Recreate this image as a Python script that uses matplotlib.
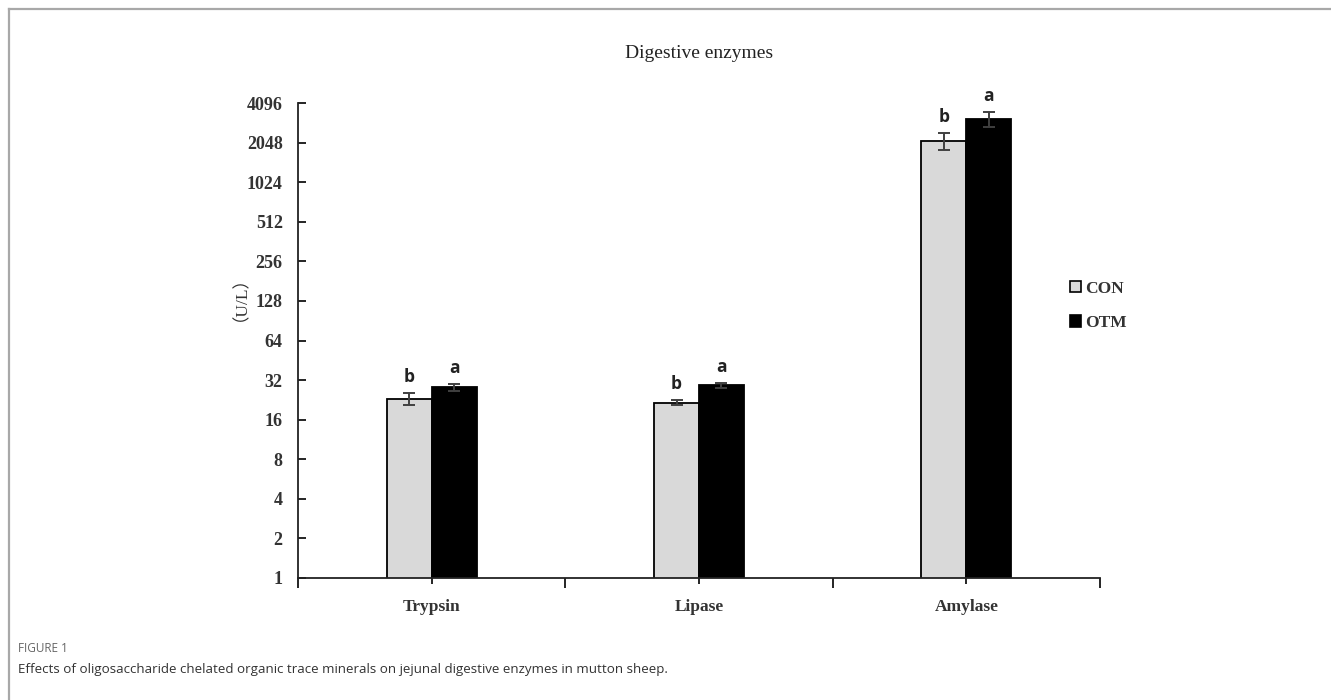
import matplotlib
matplotlib.use("Agg")
import matplotlib.pyplot as plt
import numpy as np
from matplotlib.patches import Patch
from matplotlib.lines import Line2D
from matplotlib.ticker import FixedLocator, FixedFormatter, NullLocator

categories = ["Trypsin", "Lipase", "Amylase"]
series_names = ["CON", "OTM"]
con_values = [23.0, 21.6, 2110.0]
con_errors = [2.4, 1.0, 320.0]
otm_values = [28.3, 29.2, 3100.0]
otm_errors = [1.7, 1.4, 400.0]
con_letters = ["b", "b", "b"]
otm_letters = ["a", "a", "a"]
ytick_values = [1, 2, 4, 8, 16, 32, 64, 128, 256, 512, 1024, 2048, 4096]
title = "Digestive enzymes"
ylabel = "（U/L）"
caption_head = "FIGURE 1"
caption_text = "Effects of oligosaccharide chelated organic trace minerals on jejunal digestive enzymes in mutton sheep."

W, H = 1331, 700
fig = plt.figure(figsize=(W / 100, H / 100), dpi=100)

# outer frame lines (top and left)
fig.add_artist(Line2D([9 / W, 1], [1 - 9 / H, 1 - 9 / H], color="#a8a8a8", lw=1.6))
fig.add_artist(Line2D([9 / W, 9 / W], [0, 1 - 9 / H], color="#a8a8a8", lw=1.6))

ax_l, ax_r, ax_t, ax_b = 298, 1100, 103, 578
ax = fig.add_axes([ax_l / W, 1 - ax_b / H, (ax_r - ax_l) / W, (ax_b - ax_t) / H])

x = np.arange(len(categories))
bw = 0.168

ax.bar(x - bw / 2, con_values, bw, color="#d9d9d9", edgecolor="black", linewidth=1.3, zorder=2)
ax.bar(x + bw / 2, otm_values, bw, color="black", edgecolor="black", linewidth=1.3, zorder=2)
ax.errorbar(x - bw / 2, con_values, yerr=con_errors, fmt="none", ecolor="#404040",
            elinewidth=1.4, capsize=4.5, capthick=1.4, zorder=3)
ax.errorbar(x + bw / 2, otm_values, yerr=otm_errors, fmt="none", ecolor="#404040",
            elinewidth=1.4, capsize=4.5, capthick=1.4, zorder=3)

for xi, v, e, t in zip(x - bw / 2, con_values, con_errors, con_letters):
    ax.annotate(t, (xi, v + e), xytext=(0, 5), textcoords="offset points", ha="center", va="bottom",
                fontsize=12.5, fontweight="bold", family="Open Sans", color="#222222")
for xi, v, e, t in zip(x + bw / 2, otm_values, otm_errors, otm_letters):
    ax.annotate(t, (xi, v + e), xytext=(0, 5), textcoords="offset points", ha="center", va="bottom",
                fontsize=12.5, fontweight="bold", family="Open Sans", color="#222222")

ax.set_yscale("log", base=2)
ax.set_ylim(1, 4096)
ax.set_xlim(-0.5, len(categories) - 0.5)
ax.yaxis.set_major_locator(FixedLocator(ytick_values))
ax.yaxis.set_major_formatter(FixedFormatter([str(v) for v in ytick_values]))
ax.yaxis.set_minor_locator(NullLocator())
ax.tick_params(axis="y", direction="in", length=6, width=1.2, pad=11, labelsize=13)
for lab in ax.get_yticklabels():
    lab.set_fontfamily("Liberation Serif")
    lab.set_fontweight("bold")
    lab.set_color("#333333")

ax.set_xticks(x)
ax.set_xticklabels(categories)
ax.tick_params(axis="x", direction="out", length=4, width=1.2, pad=11, labelsize=12.5)
for lab in ax.get_xticklabels():
    lab.set_fontfamily("Liberation Serif")
    lab.set_fontweight("bold")
    lab.set_color("#333333")
# boundary ticks between categories
ax.set_xticks(np.arange(-0.5, len(categories), 1.0), minor=True)
ax.tick_params(axis="x", which="minor", direction="out", length=7, width=1.2)

for s in ["top", "right"]:
    ax.spines[s].set_visible(False)
for s in ["left", "bottom"]:
    ax.spines[s].set_linewidth(1.3)
    ax.spines[s].set_color("#222222")

fig.text(699 / W, 1 - 54 / H, title, ha="center", va="center", fontsize=14,
         family="Liberation Serif", color="#222222")
fig.text(232 / W, 1 - 290 / H, ylabel, ha="center", va="center", rotation=90, fontsize=12.5,
         family=["Liberation Serif", "Noto Sans CJK SC"], color="#333333")

leg = fig.legend([Patch(facecolor="#d9d9d9", edgecolor="black", linewidth=1.2),
                  Patch(facecolor="black", edgecolor="black", linewidth=1.2)],
                 series_names, loc="upper left", bbox_to_anchor=(1054 / W, 1 - 265 / H),
                 frameon=False, handlelength=0.65, handleheight=0.65, handletextpad=0.25,
                 labelspacing=1.05, prop=dict(family="Liberation Serif", weight="bold", size=12.5))
for t in leg.get_texts():
    t.set_color("#333333")

fig.text(18 / W, 1 - 648 / H, caption_head, ha="left", va="center", fontsize=8.5,
         family="Open Sans", color="#666666")
fig.text(18 / W, 1 - 670 / H, caption_text, ha="left", va="center", fontsize=9.6,
         family="Open Sans", color="#333333")

fig.savefig("out.png", dpi=100)
